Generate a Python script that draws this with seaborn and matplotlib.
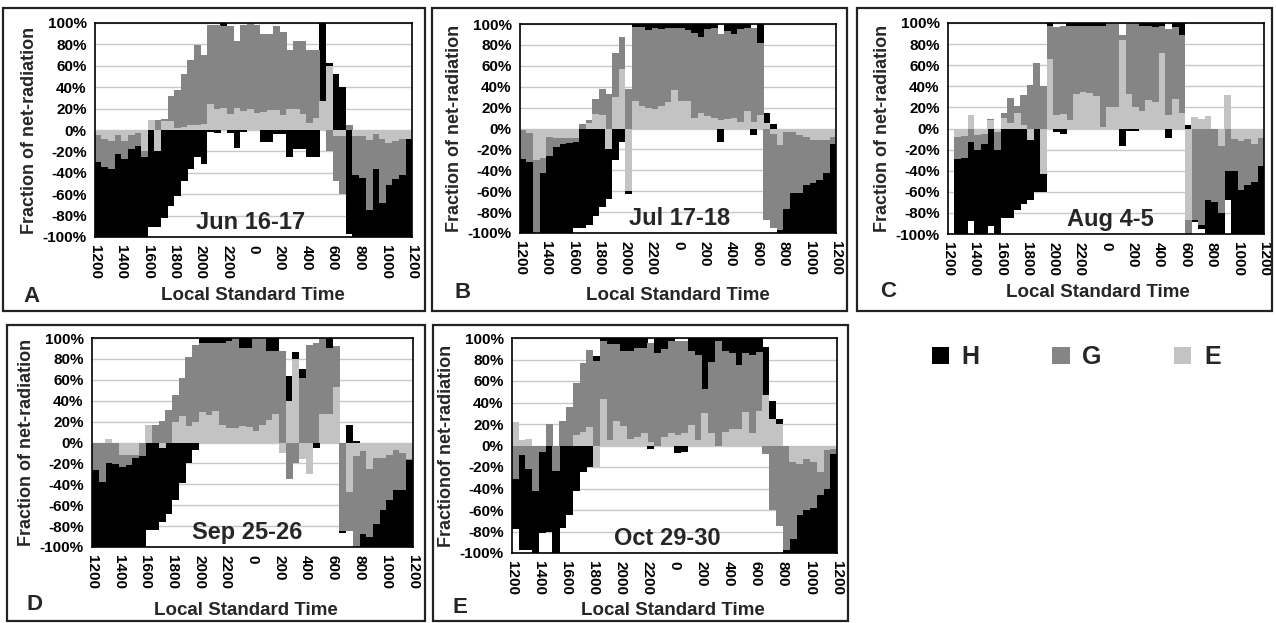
import numpy as np
import pandas as pd
import matplotlib
matplotlib.use("Agg")
import matplotlib.pyplot as plt
import seaborn as sns
from matplotlib.patches import Rectangle, Patch

sns.set_style("white")
plt.rcParams['font.family'] = ['Liberation Sans', 'DejaVu Sans']
plt.rcParams['font.weight'] = 'bold'

# ---------------- data (fractions of net radiation, %) ----------------
tick_labels = ["1200", "1400", "1600", "1800", "2000", "2200", "0",
               "200", "400", "600", "800", "1000", "1200"]
n_slots = 48  # half-hourly bars, 1200 -> 1200

A_E = [-5, -8, -10, -5, -10, -5, -3, -20, 9, -20, 8, 8,
       2, 3, 5, 5, 6, 24, 20, 21, 15, 21, 18, 20,
       16, 17, 19, 19, 14, 20, 20, 15, 7, 11, 27, 60,
       -6, -6, 0, -6, -6, -9, -4, -8, -12, -10, -8, -8]
A_G = [-25, -27, -26, -17, -17, -13, -12, -5, 0, 9, 2, 24,
       35, 49, 60, 74, 64, 74, 78, 76, 82, 62, 80, 80,
       82, 73, 71, 78, 78, 55, 63, 68, 68, 64, 0, -20,
       -42, -54, 5, -36, -39, -66, -32, -60, -39, -36, -34, 0]
A_H = [-70, -65, -64, -78, -73, -82, -85, -75, -91, -71, -82, -71,
       -62, -48, -36, -25, -32, -2, -3, 3, -3, -17, -2, 0,
       0, -11, -11, -4, -4, -25, -18, -18, -25, -25, 73, 3,
       52, 40, -97, -58, -55, -25, -64, -32, -49, -54, -58, -92]

B_E = [-1, -4, -30, -28, -8, -9, -9, -9, -9, 0, 5, 14,
       13, -20, 30, 57, -60, 26, 22, 20, 19, 22, 25, 37,
       26, 26, 10, 15, 12, 10, 8, 9, 10, 6, 17, 6,
       13, 5, -5, -16, -3, -3, -6, -8, -11, -11, -11, -8]
B_G = [-28, -28, -70, -15, -18, -9, -6, -5, -4, 4, 3, 14,
       25, 33, 42, 31, 38, 71, 75, 74, 77, 73, 71, 59,
       70, 68, 81, 73, 83, 86, 82, 84, 80, 89, 79, 90,
       69, -88, -90, -81, -74, -59, -56, -46, -41, -38, -32, -7]
B_H = [-71, -68, 0, -57, -74, -82, -85, -86, -82, -95, -92, -84,
       -75, -47, -30, -13, -3, 3, 3, 6, 4, 5, 4, 4,
       4, 6, 9, 12, 5, 4, -13, 7, 10, 5, 4, -6,
       18, 10, 4, -3, -23, -38, -38, -46, -48, -51, -57, -85]

C_E = [0, -8, -7, 13, -6, -5, 8, -3, 10, 5, 15, 3,
       -11, 0, -43, 66, 13, 14, 8, 33, 35, 34, 31, 1,
       20, 20, 84, 33, 20, 17, 27, 25, 72, 13, 28, 15,
       -87, 11, 9, 12, 0, -17, 32, -10, -12, -10, -15, -9]
C_G = [0, -21, -21, -13, -14, -10, 1, -17, 5, 24, 6, 29,
       41, 62, 40, 31, 83, 83, 89, 64, 62, 63, 66, 96,
       80, 80, 5, 67, 80, 80, 70, 71, 25, 81, 68, 74,
       -13, -87, -91, -68, -70, -63, -40, -30, -46, -44, -36, -27]
C_H = [0, -71, -72, -75, -80, -85, -92, -80, -85, -85, -77, -72,
       -57, -60, -17, 3, -3, -5, 3, 3, 3, 3, 3, 3,
       0, 0, -17, -2, -2, 3, 3, 4, 3, -9, 4, 11,
       3, -2, -4, -32, -30, -20, -28, -60, -42, -46, -49, -64]

D_E = [0, 0, 3, 0, -12, -12, -12, 0, 17, 0, -5, 0,
       20, 25, 16, 20, 29, 26, 30, 17, 14, 14, 16, 15,
       11, 17, 22, 27, -10, 40, 80, -16, -30, 0, 27, 27,
       53, 0, -47, -13, -8, -25, -15, -15, -12, -7, -10, -16]
D_G = [-26, -38, -20, -21, -11, -10, -3, -13, 0, 17, 21, 31,
       25, 37, 66, 73, 66, 69, 65, 78, 83, 86, 74, 75,
       89, 83, 66, 61, 88, -35, -20, 62, 93, 95, 73, 63,
       39, -85, -38, -87, -80, -65, -63, -50, -43, -38, -35, -1]
D_H = [-74, -62, -80, -79, -77, -78, -85, -87, -84, -84, -71, -68,
       -55, -39, -20, -7, 5, 5, 5, 5, 3, 0, 10, 10,
       0, 0, 12, 12, 0, 24, 7, 8, 0, -5, 0, 10,
       0, -2, 17, 1, -12, -10, -22, -35, -45, -55, -55, -83]

E_E = [22, 5, 6, 0, 0, 0, 0, 0, 0, 10, 13, 17,
       -20, 43, 5, 23, 18, 6, 8, 12, 3, 0, 8, 12,
       10, 12, 19, 5, 30, 12, 0, 13, 15, 15, 31, 12,
       32, 47, 25, 20, 0, -15, -17, -13, -15, -25, -4, -3]
E_G = [-31, -9, -22, -42, -6, 20, -24, 23, 36, 48, 64, 72,
       79, 54, 89, 71, 70, 82, 83, 79, 92, 86, 82, 85,
       87, 85, 69, 79, 23, 66, 97, 75, 71, 60, 55, 72,
       55, -8, -60, -75, -97, -72, -48, -47, -43, -21, -36, -5]
E_H = [-47, -88, -75, -58, -75, -80, -76, -77, -65, -42, -25, -20,
       4, 3, 6, 6, 12, 12, 9, 9, -3, 14, 10, 3,
       -7, -6, 12, 16, 47, 22, 3, 12, 14, 25, 14, 16,
       13, 45, 16, 5, -3, -13, -35, -40, -42, -54, -60, -92]

panel_letters = ["A", "B", "C", "D", "E"]
panel_dates = ["Jun 16-17", "Jul 17-18", "Aug 4-5", "Sep 25-26", "Oct 29-30"]
panel_ylabels = ["Fraction of net-radiation"] * 4 + ["Fractionof net-radiation"]
series_names = ["H", "G", "E"]

COL_H = "#000000"
COL_G = "#858585"
COL_E = "#c3c3c3"

# ---------------- layout (pixels of a 1276 x 623 canvas) ----------------
W, HGT = 1276, 623
fig = plt.figure(figsize=(W / 100, HGT / 100), dpi=100)


def fx(px):
    return px / W


def fy(py):
    return 1 - py / HGT


axes_px = [(95, 23, 412, 237), (520, 24, 836, 233), (948, 23, 1264, 234),
           (92, 338, 413, 547), (512, 338, 837, 553)]
frames_px = [(3, 8, 425, 311), (432, 8, 847, 311), (857, 8, 1272, 311),
             (7, 325, 425, 621), (433, 325, 848, 621)]
letter_px = [(23, 302), (455, 298), (880, 297), (27, 610), (452, 613)]
xlabel_px = [(253, 300), (678, 300), (1098, 297), (246, 615), (673, 615)]
date_xfrac = [0.49, 0.506, 0.513, 0.484, 0.477]

data = [(A_E, A_G, A_H), (B_E, B_G, B_H), (C_E, C_G, C_H),
        (D_E, D_G, D_H), (E_E, E_G, E_H)]


def draw_panel(ax, E, G, H):
    E = np.asarray(E, float)
    G = np.asarray(G, float)
    H = np.asarray(H, float)
    assert len(E) == len(G) == len(H) == n_slots
    pE, pG, pH = (np.clip(a, 0, None) for a in (E, G, H))
    nE, nG, nH = (np.clip(a, None, 0) for a in (E, G, H))
    layers = [(pE + pG + pH, COL_H), (pE + pG, COL_G), (pE, COL_E),
              (nE + nG + nH, COL_H), (nE + nG, COL_G), (nE, COL_E)]
    slots = np.arange(n_slots)
    for vals, col in layers:
        df = pd.DataFrame({"slot": slots, "value": vals})
        sns.barplot(data=df, x="slot", y="value", order=list(slots),
                    color=col, saturation=1, width=1.04, errorbar=None,
                    linewidth=0, edgecolor="none", antialiased=False, ax=ax)


for i, (l, t, r, b) in enumerate(axes_px):
    ax = fig.add_axes([fx(l), fy(b), fx(r - l), (b - t) / HGT])
    E, G, H = data[i]
    draw_panel(ax, E, G, H)
    ax.set_xlim(-0.5, n_slots - 0.5)
    ax.set_ylim(-100, 100)
    ax.set_axisbelow(True)
    ax.yaxis.grid(True, color="#c8c8c8", lw=1.0)
    ax.xaxis.grid(False)
    ax.set_yticks(np.arange(-100, 101, 20))
    ax.set_yticklabels([f"{v}%" for v in range(-100, 101, 20)])
    ax.set_xticks(np.arange(-0.5, n_slots, 4))
    ax.set_xticklabels(tick_labels, rotation=-90)
    ax.tick_params(axis="both", direction="out", length=4, width=1.0,
                   labelsize=11, pad=2, colors="black")
    for lab in ax.get_xticklabels() + ax.get_yticklabels():
        lab.set_fontweight("bold")
    for sp in ax.spines.values():
        sp.set_visible(True)
        sp.set_color("black")
        sp.set_linewidth(1.2)
    ax.set_xlabel("")
    ax.set_ylabel(panel_ylabels[i], fontsize=13, fontweight="bold", labelpad=3)
    ax.text(date_xfrac[i], 0.012, panel_dates[i], transform=ax.transAxes,
            ha="center", va="bottom", fontsize=17, fontweight="bold")
    xx, yy = xlabel_px[i]
    fig.text(fx(xx), fy(yy), "Local Standard Time", ha="center",
             va="baseline", fontsize=13.5, fontweight="bold")
    lx, ly = letter_px[i]
    fig.text(fx(lx), fy(ly), panel_letters[i], ha="left", va="baseline",
             fontsize=16, fontweight="bold")

for (l, t, r, b) in frames_px:
    fig.add_artist(Rectangle((fx(l), fy(b)), fx(r - l), (b - t) / HGT,
                             transform=fig.transFigure, fill=False,
                             lw=1.6, ec="#222222"))

handles = [Patch(facecolor=COL_H, edgecolor="none"),
           Patch(facecolor=COL_G, edgecolor="none"),
           Patch(facecolor=COL_E, edgecolor="none")]
fig.legend(handles, series_names, loc="center", bbox_to_anchor=(fx(1076), fy(357)),
           ncol=3, frameon=False, prop={"size": 18, "weight": "bold"},
           handlelength=0.7, handleheight=0.7, handletextpad=0.5,
           columnspacing=2.9)

fig.savefig("out.png", dpi=100)
